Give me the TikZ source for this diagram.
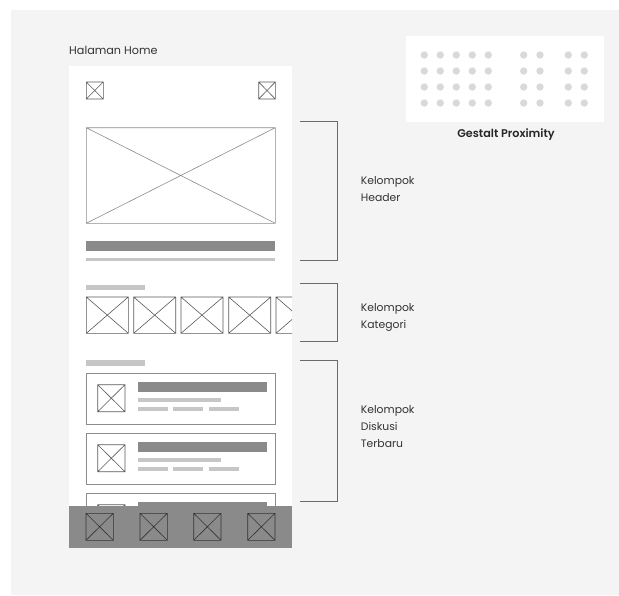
\documentclass[tikz,border=0pt]{standalone}
\usepackage{fontspec}
\setmainfont{Poppins}
\newfontfamily\popsemi{Poppins SemiBold}
\definecolor{bgc}{HTML}{F4F4F4}
\definecolor{darkbar}{HTML}{8A8A8A}
\definecolor{lightbar}{HTML}{C6C6C6}
\definecolor{xlinec}{HTML}{5A5A5A}
\definecolor{cardc}{HTML}{8C8C8C}
\definecolor{brkc}{HTML}{6A6A6A}
\definecolor{dotc}{HTML}{D9D9D9}
\definecolor{txtc}{HTML}{333333}
\tikzset{
  xline/.style={draw=xlinec, line width=0.6pt},
  cardbox/.style={draw=cardc, line width=0.8pt, fill=white},
  brk/.style={draw=brkc, line width=0.9pt},
  lbl/.style={text=txtc, inner sep=0pt, align=left, anchor=north west, font=\fontsize{10.8}{17}\selectfont},
}
\newcommand\xbox[5][xline]{\draw[#1] (#2,#3) rectangle (#4,#5) (#2,#3) -- (#4,#5) (#2,#5) -- (#4,#3);}
\begin{document}
\begin{tikzpicture}[x=1pt,y=-1pt]
\useasboundingbox (0,0) rectangle (619,595);
\fill[white] (0,0) rectangle (619,595);
\fill[bgc] (11,10) rectangle (619,595);
% phone panel
\fill[white] (69,66) rectangle (292,548);
\node[text=txtc, inner sep=0pt, anchor=west, font=\fontsize{11.2}{13}\selectfont] (hh) at (69,50.5) {Halaman Home};
% top icons
\xbox{86.3}{82}{103.3}{99}
\xbox{258.7}{82}{275.3}{99}
% hero
\xbox[xline, draw=cardc]{86.3}{127.7}{275.3}{223.3}
\fill[darkbar] (86.3,240.7) rectangle (275.3,251.3);
\fill[lightbar] (86.3,257.7) rectangle (275.3,261);
% kategori
\fill[lightbar] (86.3,284.7) rectangle (145.3,290);
\begin{scope}
\clip (69,66) rectangle (292,548);
\foreach \x in {86.3,133.7,181,228.7,276} {
  \xbox{\x}{297}{\x+42}{333.3}
}
% diskusi cards
\foreach \dy in {0,60,120} {
  \draw[cardbox] (86.3,373+\dy) rectangle (275.3,424.7+\dy);
  \xbox{97.7}{384.7+\dy}{125}{411.7+\dy}
  \fill[darkbar] (137.7,381.7+\dy) rectangle (266.7,392+\dy);
  \fill[lightbar] (137.7,397.7+\dy) rectangle (220.7,402+\dy);
  \fill[lightbar] (137.7,407+\dy) rectangle (168,411+\dy);
  \fill[lightbar] (173.3,407+\dy) rectangle (203.3,411+\dy);
  \fill[lightbar] (208.7,407+\dy) rectangle (239,411+\dy);
}
\end{scope}
\fill[lightbar] (86.3,360) rectangle (145.3,366);
% bottom bar
\fill[darkbar] (69,506) rectangle (292,548);
\foreach \x in {86,140,193.7,247.7} {
  \xbox[draw=black!80, line width=0.6pt]{\x}{513.3}{\x+27.3}{540.3}
}
% brackets
\draw[brk] (300,121.7) -- (337.7,121.7) -- (337.7,260.7) -- (300,260.7);
\draw[brk] (300,283.7) -- (337.7,283.7) -- (337.7,341.7) -- (300,341.7);
\draw[brk] (300,360) -- (337.7,360) -- (337.7,501) -- (300,501);
\node[lbl] (lh) at (360.7,176.5) {Kelompok\\Header};
\node[lbl] (lk) at (360.7,303) {Kelompok\\Kategori};
\node[lbl] (ld) at (360.7,405) {Kelompok\\Diskusi\\Terbaru};
% gestalt
\fill[white] (406,36) rectangle (604,122);
\foreach \x in {424.3,440.3,456.3,472.3,488.3,523.7,540,568.3,584.3} {
  \foreach \y in {55,71,87,103} {
    \fill[dotc] (\x,\y) circle (3.7);
  }
}
\node[text=black!85, inner sep=0pt, font=\popsemi\fontsize{11.2}{13}\selectfont] (gp) at (506,135) {Gestalt Proximity};
\end{tikzpicture}
\end{document}
